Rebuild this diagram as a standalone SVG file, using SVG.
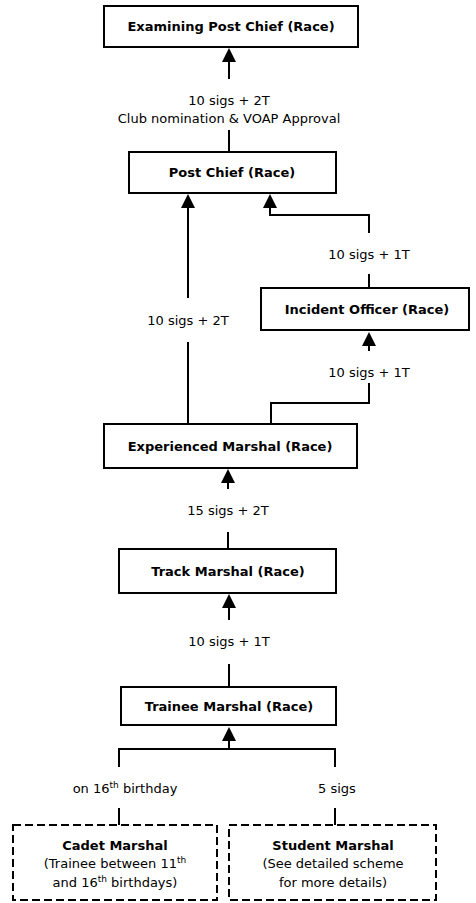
<svg xmlns="http://www.w3.org/2000/svg" width="476" height="903" viewBox="0 0 476 903">
<style>
.box{fill:#fff;stroke:#000;stroke-width:2}
.dash{fill:#fff;stroke:#000;stroke-width:2;stroke-dasharray:8,4}
.t{font-family:"DejaVu Sans",Verdana,sans-serif;font-size:13px;fill:#000;text-anchor:middle}
.b{font-weight:bold}
.ln{fill:none;stroke:#000;stroke-width:2}
.sup{font-size:9px}
</style>
<defs>
<marker id="ah" markerUnits="userSpaceOnUse" markerWidth="15" markerHeight="14" refX="1" refY="7" orient="auto">
<path d="M0,0 L14,7 L0,14 z" fill="#000"/>
</marker>
</defs>
<rect width="476" height="903" fill="#fff"/>
<g id="connectors">
<line class="ln" x1="229" y1="79" x2="229" y2="61" marker-end="url(#ah)"/>
<line class="ln" x1="229" y1="152" x2="229" y2="130"/>
<line class="ln" x1="188" y1="424" x2="188" y2="342"/>
<line class="ln" x1="188" y1="298" x2="188" y2="207" marker-end="url(#ah)"/>
<line class="ln" x1="369" y1="288" x2="369" y2="274"/>
<polyline class="ln" points="369,233 369,215 270,215 270,207" marker-end="url(#ah)"/>
<polyline class="ln" points="271,424 271,403 369,403 369,383"/>
<line class="ln" x1="369" y1="351" x2="369" y2="345" marker-end="url(#ah)"/>
<line class="ln" x1="228" y1="549" x2="228" y2="532"/>
<line class="ln" x1="228" y1="489" x2="228" y2="482" marker-end="url(#ah)"/>
<line class="ln" x1="229" y1="687" x2="229" y2="664"/>
<line class="ln" x1="229" y1="620" x2="229" y2="607" marker-end="url(#ah)"/>
<line class="ln" x1="119" y1="825" x2="119" y2="808"/>
<line class="ln" x1="335" y1="825" x2="335" y2="808"/>
<polyline class="ln" points="119,767 119,749 335,749 335,767"/>
<line class="ln" x1="229" y1="749" x2="229" y2="740" marker-end="url(#ah)"/>
<text class="t" x="229" y="105">10 sigs + 2T</text>
<text class="t" x="229" y="123">Club nomination &amp; VOAP Approval</text>
<text class="t" x="188" y="325">10 sigs + 2T</text>
<text class="t" x="369" y="259">10 sigs + 1T</text>
<text class="t" x="369" y="377">10 sigs + 1T</text>
<text class="t" x="228" y="515">15 sigs + 2T</text>
<text class="t" x="229" y="646">10 sigs + 1T</text>
<text class="t" x="125" y="793">on 16<tspan class="sup" dy="-5">th</tspan><tspan dy="5"> birthday</tspan></text>
<text class="t" x="337" y="793">5 sigs</text>
</g>
<g id="examining-post-chief">
<rect class="box" x="104" y="6" width="254" height="41"/>
<text class="t b" x="231" y="31">Examining Post Chief (Race)</text>
</g>
<g id="post-chief">
<rect class="box" x="129" y="152" width="207" height="41"/>
<text class="t b" x="232" y="177">Post Chief (Race)</text>
</g>
<g id="incident-officer">
<rect class="box" x="261" y="288" width="208" height="42"/>
<text class="t b" x="367" y="314">Incident Officer (Race)</text>
</g>
<g id="experienced-marshal">
<rect class="box" x="104" y="424" width="253" height="44"/>
<text class="t b" x="230" y="451">Experienced Marshal (Race)</text>
</g>
<g id="track-marshal">
<rect class="box" x="119" y="549" width="217" height="44"/>
<text class="t b" x="228" y="576">Track Marshal (Race)</text>
</g>
<g id="trainee-marshal">
<rect class="box" x="121" y="687" width="215" height="38"/>
<text class="t b" x="229" y="711">Trainee Marshal (Race)</text>
</g>
<g id="cadet-marshal">
<rect class="dash" x="13" y="825" width="204" height="75"/>
<text class="t b" x="115" y="850">Cadet Marshal</text>
<text class="t" x="115" y="868">(Trainee between 11<tspan class="sup" dy="-5">th</tspan></text>
<text class="t" x="115" y="887">and 16<tspan class="sup" dy="-5">th</tspan><tspan dy="5"> birthdays)</tspan></text>
</g>
<g id="student-marshal">
<rect class="dash" x="229" y="825" width="207" height="75"/>
<text class="t b" x="333" y="850">Student Marshal</text>
<text class="t" x="333" y="868">(See detailed scheme</text>
<text class="t" x="333" y="887">for more details)</text>
</g>
</svg>
